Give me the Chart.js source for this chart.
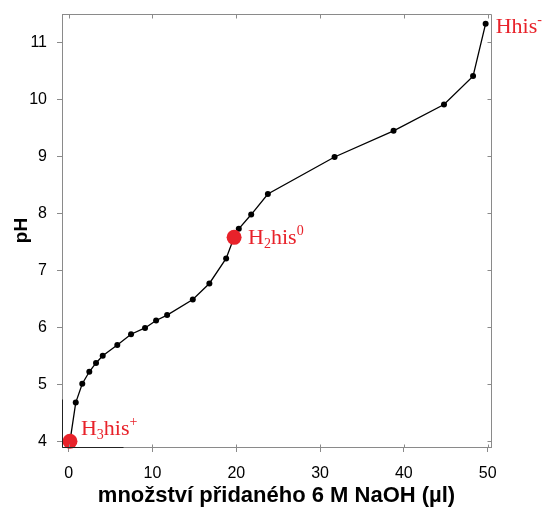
<!DOCTYPE html>
<html>
<head>
<meta charset="utf-8">
<script src="https://cdn.jsdelivr.net/npm/chart.js@4.4.1/dist/chart.umd.min.js"></script>
<style>
  html, body { margin: 0; padding: 0; background: #fff; }
</style>
</head>
<body>
<canvas id="titrace" width="545" height="514"></canvas>
<script>
// Titration curve of histidine: pH vs. added 6 M NaOH (µl)
const naohVol = [0.15, 0.84, 1.62, 2.46, 3.26, 4.06, 5.80, 7.44, 9.11, 10.43, 11.75,
                 14.81, 16.79, 18.79, 19.74, 20.30, 21.78, 23.77, 31.73, 38.77, 44.79, 48.26, 49.76];
const phVals  = [4.00, 4.68, 5.01, 5.22, 5.375, 5.50, 5.69, 5.88, 5.99, 6.12, 6.215,
                 6.49, 6.77, 7.21, 7.58, 7.73, 7.98, 8.34, 8.99, 9.45, 9.91, 10.41, 11.33];

const xTicks = [0, 10, 20, 30, 40, 50];
const yTicks = [4, 5, 6, 7, 8, 9, 10, 11];

// species labels: [text, 'sub' | 'sup' | undefined]
const speciesIdx = [0, 14, 22];
const speciesLabels = [
  [['H'], ['3', 'sub'], ['his'], ['+', 'sup']],
  [['H'], ['2', 'sub'], ['his'], ['0', 'sup']],
  [['Hhis'], ['-', 'sup']]
];
// big red dots only for the first two species
const markedIdx = [0, 14];

const AXIS = '#8a8a8a';
const RED = '#e8222a';
const SANS = '"Liberation Sans", Arial, sans-serif';

const curve = naohVol.map((v, i) => ({ x: v, y: phVals[i] }));
const markers = markedIdx.map(i => ({ x: naohVol[i], y: phVals[i] }));

// box on top/right, inward tick marks, dark stubs at the origin corner
const frame = {
  id: 'frame',
  afterDraw(chart, args, opts) {
    const { ctx, chartArea: a, scales: { x, y } } = chart;
    const L = Math.round(a.left) + 0.5, R = Math.round(a.right) + 0.5;
    const T = Math.round(a.top) + 0.5, B = Math.round(a.bottom) + 0.5;
    ctx.save();
    ctx.lineWidth = 1;
    ctx.strokeStyle = opts.color;
    ctx.beginPath();
    ctx.moveTo(L, T); ctx.lineTo(R, T); ctx.lineTo(R, B);
    xTicks.forEach(v => {
      const px = Math.round(x.getPixelForValue(v)) + 0.5;
      ctx.moveTo(px, T); ctx.lineTo(px, T + 4);
      ctx.moveTo(px, B); ctx.lineTo(px, B - 3);
    });
    yTicks.forEach(v => {
      const py = Math.round(y.getPixelForValue(v)) + 0.5;
      ctx.moveTo(R, py); ctx.lineTo(R - 4, py);
    });
    ctx.stroke();

    ctx.strokeStyle = opts.stubColor;
    ctx.beginPath();
    ctx.moveTo(L, Math.round(y.getPixelForValue(opts.stubY)) + 0.5);
    ctx.lineTo(L, B);
    ctx.lineTo(Math.round(x.getPixelForValue(opts.stubX)) + 0.5, B);
    ctx.stroke();
    ctx.restore();
  }
};

// red species names with sub/superscripts
const speciesTags = {
  id: 'speciesTags',
  afterDatasetsDraw(chart, args, opts) {
    const { ctx, scales: { x, y } } = chart;
    ctx.save();
    ctx.fillStyle = opts.color;
    ctx.textBaseline = 'alphabetic';
    speciesIdx.forEach((idx, k) => {
      let px = x.getPixelForValue(naohVol[idx]) + opts.offsets[k][0];
      const py = y.getPixelForValue(phVals[idx]) + opts.offsets[k][1];
      speciesLabels[k].forEach(([txt, kind]) => {
        const small = kind === 'sub' || kind === 'sup';
        ctx.font = (small ? opts.smallSize : opts.size) + 'px ' + opts.family;
        const dy = kind === 'sub' ? opts.subShift : (kind === 'sup' ? -opts.supShift : 0);
        ctx.fillText(txt, px, py + dy);
        px += ctx.measureText(txt).width;
      });
    });
    ctx.restore();
  }
};

new Chart(document.getElementById('titrace'), {
  type: 'scatter',
  data: {
    datasets: [
      {
        data: markers,
        pointRadius: 7.5,
        pointHoverRadius: 7.5,
        backgroundColor: RED,
        borderWidth: 0,
        clip: false
      },
      {
        data: curve,
        showLine: true,
        borderColor: '#000',
        borderWidth: 1.3,
        pointRadius: c => markedIdx.includes(c.dataIndex) ? 0 : 3,
        pointBackgroundColor: '#000',
        pointBorderWidth: 0
      }
    ]
  },
  options: {
    responsive: false,
    devicePixelRatio: 1,
    animation: false,
    layout: { padding: { top: 14, right: 54, left: 0, bottom: 0 } },
    plugins: {
      legend: { display: false },
      tooltip: { enabled: false },
      frame: { color: AXIS, stubColor: '#222', stubX: 6.5, stubY: 4.75 },
      speciesTags: {
        color: RED,
        family: '"Liberation Serif", "Times New Roman", serif',
        size: 22,
        smallSize: 14,
        subShift: 4,
        supShift: 9,
        offsets: [[11, -6], [14, 7], [10, 9]]
      }
    },
    scales: {
      x: {
        type: 'linear',
        min: -0.8,
        max: 50.4,
        afterBuildTicks: s => { s.ticks = xTicks.map(v => ({ value: v })); },
        afterFit: s => { s.height = 67; s.paddingLeft = 0; s.paddingRight = 0; },
        border: { color: AXIS, width: 1 },
        grid: { drawOnChartArea: false, color: AXIS, tickLength: 5 },
        ticks: { color: '#000', font: { family: SANS, size: 16 }, padding: 12, maxRotation: 0 },
        title: {
          display: true,
          text: 'množství přidaného 6 M NaOH (µl)',
          color: '#000',
          font: { family: SANS, size: 22, weight: 'bold' },
          padding: { top: 0, bottom: 5 }
        }
      },
      y: {
        type: 'linear',
        min: 3.9,
        max: 11.5,
        afterBuildTicks: s => { s.ticks = yTicks.map(v => ({ value: v })); },
        afterFit: s => { s.width = 62; s.paddingTop = 0; s.paddingBottom = 0; },
        border: { color: AXIS, width: 1 },
        grid: { drawOnChartArea: false, color: AXIS, tickLength: 5 },
        ticks: { color: '#000', font: { family: SANS, size: 16 }, padding: 10 },
        title: {
          display: true,
          text: 'pH',
          color: '#000',
          font: { family: SANS, size: 19, weight: 'bold' },
          padding: { top: 10, bottom: 0 }
        }
      }
    }
  },
  plugins: [frame, speciesTags]
});
</script>
</body>
</html>
